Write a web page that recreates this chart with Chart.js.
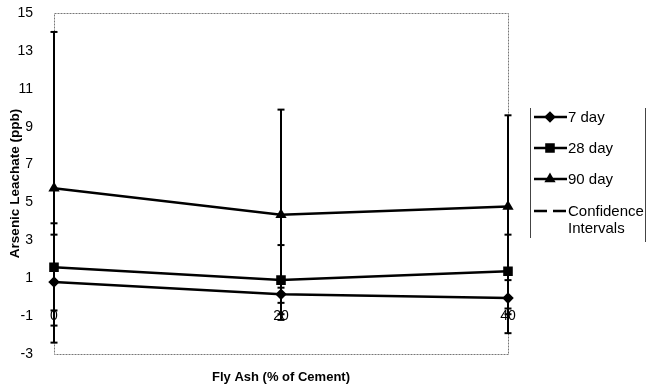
<!DOCTYPE html>
<html>
<head>
<meta charset="utf-8">
<script src="https://cdn.jsdelivr.net/npm/chart.js@4/dist/chart.umd.min.js"></script>
<style>
html, body { margin: 0; padding: 0; background: #fff; }
</style>
</head>
<body>
<canvas id="myChart" width="647" height="389"></canvas>
<script>
// fly ash content (% of cement) and arsenic leachate (ppb)
const flyAsh = [0, 20, 40];
const xTickLabels = ['0', '20', '40'];
const day7 = [0.8, 0.15, -0.05];
const day28 = [1.58, 0.9, 1.37];
const day90 = [5.75, 4.35, 4.78];
// confidence interval bounds per series
const ci7Low = [-1.5, -0.3, -0.9];
const ci7High = [3.3, 0.5, 0.9];
const ci28Low = [-0.7, -0.9, -0.6];
const ci28High = [3.9, 2.75, 3.3];
const ci90Low = [-2.4, -1.2, -1.9];
const ci90High = [14, 9.9, 9.6];
const yTicks = [-3, -1, 1, 3, 5, 7, 9, 11, 13, 15];

const FONT = 'Liberation Sans, Arial, sans-serif';

function pts(vals) {
    return flyAsh.map((x, i) => ({x: x, y: vals[i]}));
}

// vertical interval segments, split by nulls
var ciSegs = [];
var ciCaps = [];
[[ci7Low, ci7High], [ci28Low, ci28High], [ci90Low, ci90High]].forEach(function(pair) {
    flyAsh.forEach(function(x, i) {
        ciSegs.push({x: x, y: pair[0][i]});
        ciSegs.push({x: x, y: pair[1][i]});
        ciSegs.push({x: x, y: null});
        ciCaps.push({x: x, y: pair[0][i]});
        ciCaps.push({x: x, y: pair[1][i]});
    });
});

const framePlugin = {
    id: 'frame',
    beforeDatasetsDraw(chart) {
        const a = chart.chartArea;
        const c = chart.ctx;
        c.save();
        c.strokeStyle = '#777';
        c.lineWidth = 1;
        c.setLineDash([2, 1]);
        c.strokeRect(a.left + 0.5, a.top + 0.5, a.right - a.left, a.bottom - a.top);
        c.restore();
    },
    afterDatasetsDraw(chart) {
        const c = chart.ctx;
        const xs = chart.scales.x, ys = chart.scales.y;
        c.save();
        c.fillStyle = '#000';
        c.font = '14px ' + FONT;
        c.textAlign = 'center';
        c.textBaseline = 'middle';
        flyAsh.forEach(function(v, i) {
            c.fillText(xTickLabels[i], xs.getPixelForValue(v), ys.getPixelForValue(0) + 19);
        });
        c.restore();
    },
    afterDraw(chart) {
        // legend on the right
        const c = chart.ctx;
        c.save();
        c.strokeStyle = '#444';
        c.lineWidth = 1;
        c.beginPath();
        c.moveTo(530.5, 108); c.lineTo(530.5, 238);
        c.moveTo(645.5, 108); c.lineTo(645.5, 242);
        c.stroke();
        c.font = '15px ' + FONT;
        c.fillStyle = '#000';
        c.textBaseline = 'middle';
        c.textAlign = 'left';
        const items = chart.data.datasets.slice(0, 3);
        const rows = [117, 148, 179];
        items.forEach(function(ds, i) {
            const y = rows[i];
            c.strokeStyle = '#000';
            c.lineWidth = 2.5;
            c.beginPath(); c.moveTo(534, y); c.lineTo(567, y); c.stroke();
            Chart.helpers.drawPoint(c, {pointStyle: ds.pointStyle, radius: ds.pointRadius, borderWidth: 1}, 550, y);
            c.fillText(ds.label, 568, y + 1);
        });
        c.lineWidth = 2.5;
        c.beginPath();
        c.moveTo(534, 211); c.lineTo(547, 211);
        c.moveTo(553, 211); c.lineTo(566, 211);
        c.stroke();
        c.fillText('Confidence', 568, 212);
        c.fillText('Intervals', 568, 229);
        c.restore();
    }
};

const ctx = document.getElementById('myChart').getContext('2d');
var graphData = {
    type: 'line',
    data: {
        datasets: [{
            label: '7 day',
            data: pts(day7),
            borderColor: '#000',
            backgroundColor: '#000',
            borderWidth: 2.5,
            pointStyle: 'rectRot',
            pointRadius: 4,
            clip: false
        }, {
            label: '28 day',
            data: pts(day28),
            borderColor: '#000',
            backgroundColor: '#000',
            borderWidth: 2.5,
            pointStyle: 'rect',
            pointRadius: 5,
            clip: false
        }, {
            label: '90 day',
            data: pts(day90),
            borderColor: '#000',
            backgroundColor: '#000',
            borderWidth: 2.5,
            pointStyle: 'triangle',
            pointRadius: 4,
            clip: false
        }, {
            label: 'Confidence Intervals',
            data: ciSegs,
            borderColor: '#000',
            borderWidth: 2,
            pointRadius: 0,
            spanGaps: false,
            clip: false
        }, {
            label: 'caps',
            data: ciCaps,
            showLine: false,
            borderColor: '#000',
            borderWidth: 2,
            pointStyle: 'line',
            pointRadius: 3.5,
            clip: false
        }]
    },
    options: {
        responsive: false,
        animation: false,
        devicePixelRatio: 1,
        layout: { padding: { top: 13, right: 139, left: 0, bottom: 0 } },
        plugins: { legend: { display: false }, tooltip: { enabled: false } },
        scales: {
            x: {
                type: 'linear',
                min: 0,
                max: 40,
                grid: { display: false, drawTicks: false },
                border: { display: false },
                ticks: { display: false },
                title: {
                    display: true,
                    text: 'Fly Ash (% of Cement)',
                    color: '#000',
                    font: { family: FONT, size: 13, weight: 'bold' },
                    padding: { top: 0, bottom: 4 }
                },
                afterFit(scale) { scale.height = 35; }
            },
            y: {
                min: -3,
                max: 15,
                grid: { display: false, drawTicks: true, tickLength: 21 },
                border: { display: false },
                afterBuildTicks(scale) { scale.ticks = yTicks.map(v => ({value: v})); },
                ticks: {
                    color: '#000',
                    font: { family: FONT, size: 14 },
                    padding: 0
                },
                title: {
                    display: true,
                    text: 'Arsenic Leachate (ppb)',
                    color: '#000',
                    font: { family: FONT, size: 13.5, weight: 'bold' },
                    padding: { top: 7, bottom: 0 }
                },
                afterFit(scale) { scale.width = 54; }
            }
        }
    },
    plugins: [framePlugin]
};
const myChart = new Chart(ctx, graphData);
</script>
</body>
</html>
